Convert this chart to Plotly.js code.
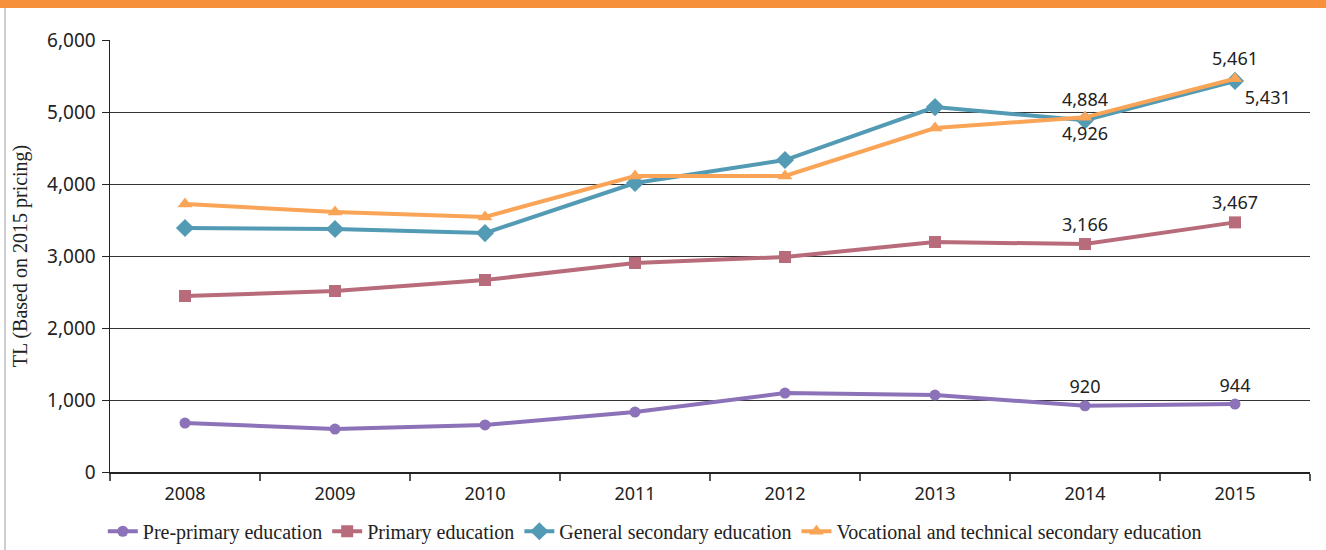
<!DOCTYPE html>
<html><head><meta charset="utf-8">
<script src="https://cdn.plot.ly/plotly-3.0.1.min.js"></script>
<style>
html,body{margin:0;padding:0;background:#fff;}
#wrap{position:relative;width:1326px;height:550px;overflow:hidden;}
#topbar{position:absolute;left:0;top:0;width:1326px;height:8px;background:#F7903A;}
#leftbar{position:absolute;left:4px;top:8px;width:2px;height:542px;background:#cfcfcf;}
#chart{position:absolute;left:0;top:0;width:1326px;height:550px;}
</style></head>
<body><div id="wrap"><div id="chart"></div><div id="topbar"></div><div id="leftbar"></div></div>
<script>
const years = ['2008','2009','2010','2011','2012','2013','2014','2015'];
const prePrimary = [680, 597, 653, 833, 1097, 1069, 920, 944];
const primary = [2444, 2514, 2667, 2903, 2986, 3194, 3166, 3467];
const generalSecondary = [3389, 3375, 3319, 4014, 4333, 5069, 4884, 5431];
const vocational = [3722, 3611, 3542, 4111, 4111, 4778, 4926, 5461];
const names = ['Pre-primary education','Primary education','General secondary education','Vocational and technical secondary education'];

function labels(arr, idx){ return arr.map((v,i)=> idx.includes(i) ? v.toLocaleString('en-US') : ''); }
const lblFont = {family:'Noto Sans, sans-serif', size:18, color:'#222'};

const traces = [
 {x:years, y:prePrimary, name:names[0], mode:'lines+markers+text', text:labels(prePrimary,[6,7]),
  textposition:'top center', textfont:lblFont, cliponaxis:false,
  line:{color:'#8C72B8', width:4}, marker:{symbol:'circle', size:11, color:'#8C72B8'}},
 {x:years, y:primary, name:names[1], mode:'lines+markers+text', text:labels(primary,[6,7]),
  textposition:'top center', textfont:lblFont, cliponaxis:false,
  line:{color:'#B86B7A', width:4}, marker:{symbol:'square', size:12, color:'#B86B7A'}},
 {x:years, y:generalSecondary, name:names[2], mode:'lines+markers+text', text:labels(generalSecondary,[6,7]),
  textposition:['top center','top center','top center','top center','top center','top center','top center','bottom right'], textfont:lblFont, cliponaxis:false,
  line:{color:'#539BB4', width:4}, marker:{symbol:'diamond', size:14, color:'#539BB4'}},
 {x:years, y:vocational, name:names[3], mode:'lines+markers+text', text:labels(vocational,[6,7]),
  textposition:['top center','top center','top center','top center','top center','top center','bottom center','top center'], textfont:lblFont, cliponaxis:false,
  line:{color:'#F9A456', width:4}, marker:{symbol:'triangle-up', size:13, color:'#F9A456'}}
];

const layout = {
 width:1326, height:550,
 margin:{l:110, r:16, t:40, b:78, autoexpand:false},
 paper_bgcolor:'rgba(0,0,0,0)', plot_bgcolor:'#fff',
 showlegend:true,
 legend:{orientation:'h', x:-0.006, xanchor:'left', y:-0.092, yanchor:'top',
  font:{family:'Liberation Serif, serif', size:20, color:'#222'}, itemwidth:30, tracegroupgap:0},
 xaxis:{type:'category', range:[-0.5,7.5], showgrid:false, showline:true, linecolor:'#222', linewidth:1.5,
  ticks:'outside', tickson:'boundaries', ticklen:7, tickcolor:'#555', tickwidth:1.5, ticklabelstandoff:5,
  tickfont:{family:'Noto Sans, sans-serif', size:18, color:'#222'}, zeroline:false},
 yaxis:{range:[0,6000], tickvals:[0,1000,2000,3000,4000,5000,6000],
  ticktext:['0','1,000','2,000','3,000','4,000','5,000','6,000'],
  showgrid:true, gridcolor:'#333', gridwidth:1, showline:true, linecolor:'#222', linewidth:1.5,
  ticks:'outside', ticklen:7, tickcolor:'#222', ticklabelstandoff:2,
  tickfont:{family:'Noto Sans, sans-serif', size:19, color:'#222'}, zeroline:false,
  title:{text:'TL (Based on 2015 pricing)', font:{family:'Liberation Serif, serif', size:20, color:'#222'}, standoff:14}}
};
Plotly.newPlot('chart', traces, layout, {displayModeBar:false, staticPlot:true});
</script></body></html>
